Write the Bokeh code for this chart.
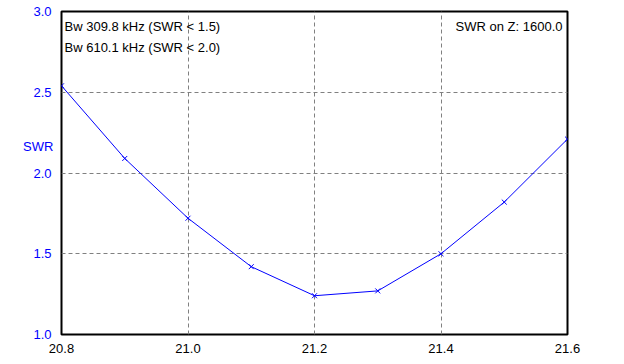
from bokeh.plotting import figure
from bokeh.models import Label, FixedTicker, Range1d, NumeralTickFormatter
from bokeh.embed import file_html
from bokeh.resources import INLINE

freq = [20.8, 20.9, 21.0, 21.1, 21.2, 21.3, 21.4, 21.5, 21.6]
swr = [2.54, 2.09, 1.72, 1.42, 1.24, 1.27, 1.50, 1.82, 2.21]
x_ticks = [20.8, 21.0, 21.2, 21.4, 21.6]
y_ticks = [1.0, 1.5, 2.0, 2.5, 3.0]
info_left = ["Bw 309.8 kHz (SWR < 1.5)", "Bw 610.1 kHz (SWR < 2.0)"]
info_right = "SWR on Z: 1600.0"
y_label = "SWR"

FONT = "Liberation Sans"
FS = "13px"

p = figure(width=620, height=360, output_backend="svg", toolbar_location=None,
           x_range=Range1d(20.8, 21.6), y_range=Range1d(1.0, 3.0),
           min_border_left=61, min_border_right=53, min_border_top=11, min_border_bottom=26)
p.background_fill_color = "white"
p.border_fill_color = "white"
p.outline_line_color = "black"
p.outline_line_width = 2

for ax in (p.xaxis, p.yaxis):
    ax.axis_line_color = None
    ax.major_tick_line_color = None
    ax.minor_tick_line_color = None
    ax.major_label_text_font = FONT
    ax.major_label_text_font_size = FS
    ax.formatter = NumeralTickFormatter(format="0.0")

p.xaxis.ticker = FixedTicker(ticks=x_ticks)
p.yaxis.ticker = FixedTicker(ticks=y_ticks)
p.xaxis.major_label_text_color = "black"
p.yaxis.major_label_text_color = "#0000ff"
p.xaxis.major_label_standoff = 3
p.yaxis.major_label_standoff = 4

# horizontal y-axis label, lifted above the frame centre with blank lines
yax = p.yaxis[0]
yax.axis_label = y_label + "\n\n\n"
if "axis_label_orientation" in yax.properties():
    yax.axis_label_orientation = "horizontal"
yax.axis_label_standoff = -23
yax.axis_label_text_font = FONT
yax.axis_label_text_font_size = FS
yax.axis_label_text_font_style = "normal"
yax.axis_label_text_color = "#0000ff"

p.xgrid.ticker = FixedTicker(ticks=[21.0, 21.2, 21.4])
p.ygrid.ticker = FixedTicker(ticks=[1.5, 2.0, 2.5])
for g in (p.xgrid, p.ygrid):
    g.grid_line_color = "#808080"
    g.grid_line_dash = "4 3"
    g.grid_line_width = 1

p.line(freq, swr, line_color="#0000ff", line_width=1)
p.scatter(freq, swr, marker="x", size=7, line_color="#0000ff", line_width=1)

for i, t in enumerate(info_left):
    p.add_layout(Label(x=20.8, y=3.0, x_offset=3, y_offset=-15 - 21 * i, text=t,
                       text_font=FONT, text_font_size=FS, text_color="black",
                       text_baseline="middle", text_align="left"))
p.add_layout(Label(x=21.6, y=3.0, x_offset=-5, y_offset=-15, text=info_right,
                   text_font=FONT, text_font_size=FS, text_color="black",
                   text_baseline="middle", text_align="right"))

open("out.html", "w").write(file_html(p, INLINE))
